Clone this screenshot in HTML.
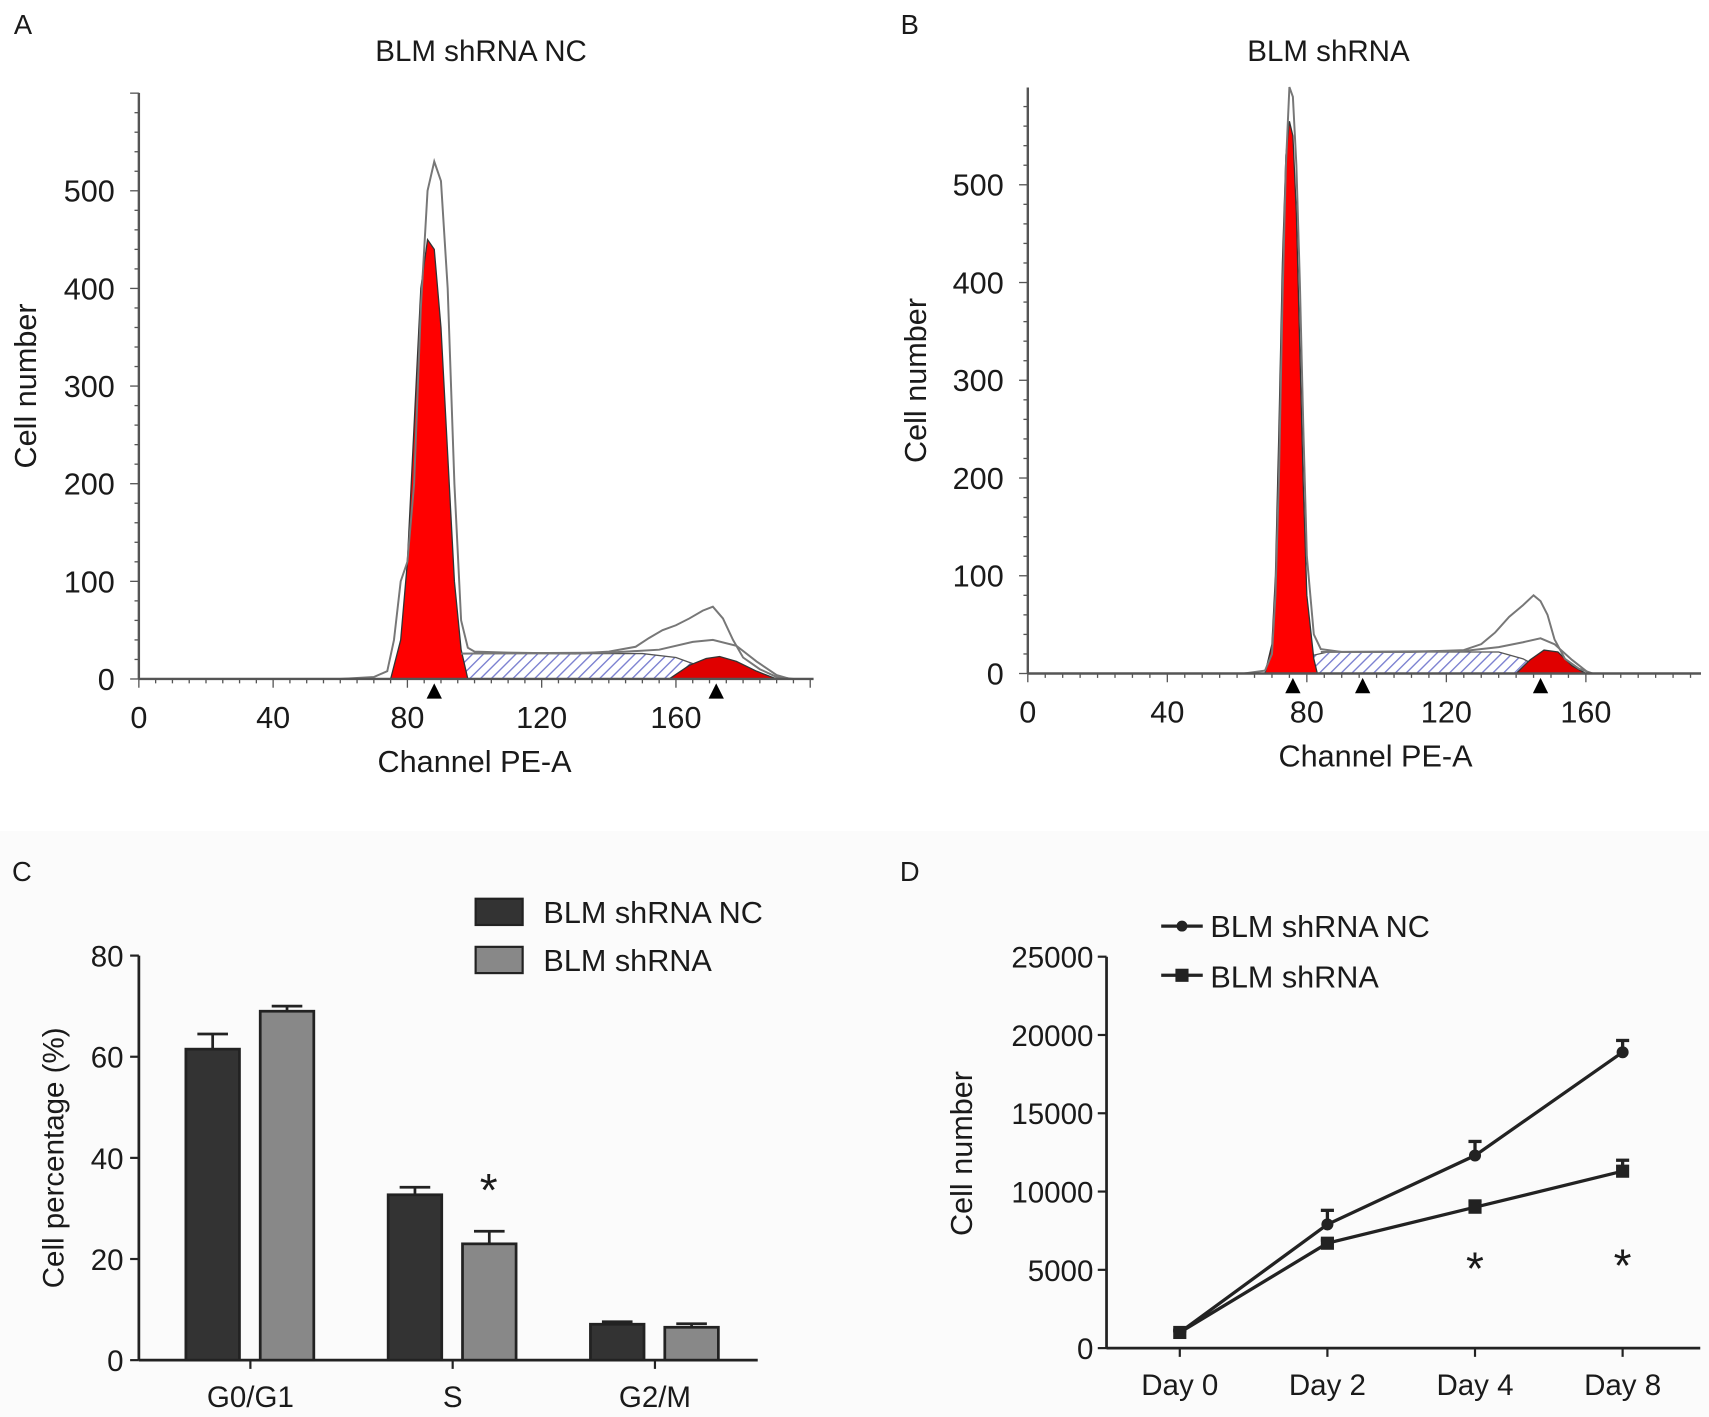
<!DOCTYPE html>
<html><head><meta charset="utf-8"><style>
html,body{margin:0;padding:0;background:#fff}
svg{display:block;font-family:"Liberation Sans",Arial,sans-serif}
</style></head><body>
<svg id="fig" width="1709" height="1417" viewBox="0 0 1563 1296" preserveAspectRatio="none" xmlns="http://www.w3.org/2000/svg">
<defs>
<pattern id="hatch" patternUnits="userSpaceOnUse" width="7" height="7" patternTransform="rotate(45)">
<rect width="7" height="7" fill="#fff"/><line x1="0" y1="0" x2="0" y2="7" stroke="#7a7fd0" stroke-width="2.5"/></pattern>
</defs>
<rect x="0" y="760" width="1563" height="536" fill="#fbfbfb"/>
<g id="root"></g>
</svg>
<script>
// ---- Panel A/B histogram data: [channel, count] ----
const aRaw=[[60,0],[70,2],[74,8],[76,40],[78,100],[80,120],[82,200],[84,380],[86,500],[88,530],[90,510],[92,400],[94,200],[96,60],[98,32],[100,28],[110,27],[130,26],[140,28],[148,33],[152,42],[156,50],[160,55],[164,62],[168,70],[171,74],[174,62],[177,40],[180,22],[185,10],[190,2],[195,0]];
const aSmooth=[[96,26],[140,27],[155,30],[165,38],[171,40],[178,34],[184,18],[190,4],[194,0]];
const aG1=[[75,0],[78,40],[80,120],[82,260],[84,400],[86,450],[88,440],[90,360],[92,230],[94,100],[96,30],[98,0]];
const aS=[[86,0],[92,22],[96,26],[150,26],[160,22],[168,12],[176,0]];
const aG2=[[158,0],[164,14],[169,21],[173,23],[178,18],[184,8],[190,0]];
const aMarks=[88,172];
const bRaw=[[62,0],[68,3],[70,20],[71,80],[72,200],[73,380],[74,520],[75,600],[76,590],[77,520],[78,400],[79,250],[80,120],[82,40],[84,25],[90,22],[110,22],[125,24],[130,30],[134,42],[138,58],[142,70],[145,80],[147,74],[149,60],[151,35],[154,15],[158,5],[162,0]];
const bSmooth=[[84,22],[125,23],[135,27],[142,32],[147,36],[151,30],[156,14],[161,0]];
const bG1=[[68,0],[70,30],[71,100],[72,250],[73,420],[74,530],[75,565],[76,550],[77,470],[78,330],[79,190],[80,80],[82,15],[83,0]];
const bS=[[76,0],[81,18],[86,22],[135,22],[142,15],[150,0]];
const bG2=[[140,0],[144,14],[148,24],[152,22],[156,8],[160,0]];
const bMarks=[76,96,147];
// ---- Panel C bar data ----
const cCats=["G0/G1","S","G2/M"];
const cNC=[61.5,32.7,7.1];
const cNCerr=[3,1.5,0.5];
const cSh=[69,23,6.5];
const cShErr=[1,2.5,0.7];
const cTicks=[0,20,40,60,80];
// ---- Panel D line data ----
const dCats=["Day 0","Day 2","Day 4","Day 8"];
const dNC=[1000,7900,12300,18900];
const dNCerr=[150,900,900,750];
const dSh=[1000,6700,9000,11300];
const dShErr=[100,200,400,700];
const dTicks=[0,5000,10000,15000,20000,25000];

const NS="http://www.w3.org/2000/svg";
const root=document.getElementById('root');
function mk(tag,attrs,parent,text){const e=document.createElementNS(NS,tag);for(const k in attrs)e.setAttribute(k,attrs[k]);if(text!==undefined)e.textContent=text;(parent||root).appendChild(e);return e;}
function txt(x,y,s,size,name,anchor,extra){const t=mk('text',Object.assign({x:x,y:y,'font-size':size,'text-anchor':anchor||'middle',fill:'#1a1a1a'},extra||{}),root,s);


return t;}

function histPanel(o){
  const g=mk('g',{});
  
  
  const X=v=>o.x0+v*o.kx, Y=v=>o.y0-v*o.ky;
  const area=(pts,fill,stroke,name)=>{let d='M'+X(pts[0][0])+','+Y(0);pts.forEach(p=>d+=' L'+X(p[0])+','+Y(p[1]));d+=' L'+X(pts[pts.length-1][0])+','+Y(0)+'Z';
    const p=mk('path',{d:d,fill:fill,stroke:stroke,'stroke-width':1.2},g);
    
    };
  const line=(pts,name)=>{const p=mk('polyline',{points:pts.map(p=>X(p[0])+','+Y(p[1])).join(' '),fill:'none',stroke:'#777','stroke-width':1.8},g);
    
    };
  area(o.s,'url(#hatch)','#555','s-phase-area');
  area(o.g1,'#ff0000','#333','g1-peak');
  area(o.g2,'#e00000','#333','g2-peak');
  line(o.raw,'raw-histogram');
  line(o.smooth,'fit-curve');
  mk('line',{x1:o.x0,y1:o.y0,x2:X(o.xmax),y2:o.y0,stroke:'#555','stroke-width':2.2},g);
  mk('line',{x1:o.x0,y1:o.y0,x2:o.x0,y2:o.ytop,stroke:'#555','stroke-width':2.2},g);
  for(let v=0;v<=o.xmax;v+=5){mk('line',{x1:X(v),y1:o.y0,x2:X(v),y2:o.y0+(v%40==0?8:4),stroke:'#555','stroke-width':1.2},g);}
  for(let v=0;Y(v)>=o.ytop;v+=20){mk('line',{x1:o.x0,y1:Y(v),x2:o.x0-(v%100==0?8:4),y2:Y(v),stroke:'#555','stroke-width':1.2},g);}
  [0,40,80,120,160].forEach(v=>txt(X(v),o.y0+45,String(v),28,'x-tick-'+v));
  [0,100,200,300,400,500].forEach(v=>txt(o.x0-22,Y(v)+10,String(v),28,'y-tick-'+v,'end'));
  o.marks.forEach(m=>{const t=mk('polygon',{points:`${X(m)-7},${o.y0+18} ${X(m)+7},${o.y0+18} ${X(m)},${o.y0+4}`,fill:'#000'},g);
    
    });
}
histPanel({name:'panel-a-histogram',x0:127,y0:621,kx:3.07,ky:0.893,xmax:201,ytop:85,raw:aRaw,smooth:aSmooth,g1:aG1,s:aS,g2:aG2,marks:aMarks});
histPanel({name:'panel-b-histogram',x0:940,y0:616,kx:3.19,ky:0.894,xmax:193,ytop:80,raw:bRaw,smooth:bSmooth,g1:bG1,s:bS,g2:bG2,marks:bMarks});
txt(21,31,'A',25,'panel-a-label','middle');
txt(440,56,'BLM shRNA NC',27,'panel-a-title');
txt(434,706,'Channel PE-A',28,'panel-a-x-title');
txt(33,353,'Cell number',28,'panel-a-y-title','middle',{transform:'rotate(-90 33 353)'});
txt(832,31,'B',25,'panel-b-label');
txt(1215,56,'BLM shRNA',27,'panel-b-title');
txt(1258,701,'Channel PE-A',28,'panel-b-x-title');
txt(847,348,'Cell number',28,'panel-b-y-title','middle',{transform:'rotate(-90 847 348)'});

// ---- Panel C ----
(function(){
  const x0=127,y0=1244,ky=4.625,Y=v=>y0-v*ky;
  const centers=[229,414,599],bw=49;
  mk('line',{x1:x0,y1:y0,x2:693,y2:y0,stroke:'#222','stroke-width':2.5});
  mk('line',{x1:x0,y1:y0,x2:x0,y2:Y(80),stroke:'#222','stroke-width':2.5});
  cTicks.forEach(v=>{mk('line',{x1:x0-8,y1:Y(v),x2:x0,y2:Y(v),stroke:'#222','stroke-width':2});txt(x0-14,Y(v)+10,String(v),27,'c-y-tick-'+v,'end');});
  cCats.forEach((c,i)=>{
    mk('line',{x1:centers[i],y1:y0,x2:centers[i],y2:y0+8,stroke:'#222','stroke-width':2});
    txt(centers[i],y0+43,c,27,'c-x-tick-'+i);
    [[cNC,cNCerr,'#333',-bw/2-10,'bar-nc-'],[cSh,cShErr,'#888',bw/2+9,'bar-shrna-']].forEach(s=>{
      const cx=centers[i]+s[3],v=s[0][i],e=s[1][i];
      mk('line',{x1:cx,y1:Y(v),x2:cx,y2:Y(v+e),stroke:'#222','stroke-width':2.5});
      mk('line',{x1:cx-14,y1:Y(v+e),x2:cx+14,y2:Y(v+e),stroke:'#222','stroke-width':2.5});
      const r=mk('rect',{x:cx-bw/2,y:Y(v),width:bw,height:v*ky,fill:s[2],stroke:'#222','stroke-width':2.5});
      
      
    });
  });
  txt(447,1103,'*',42,'c-significance-star');
  mk('rect',{x:435,y:822,width:43,height:24,fill:'#333',stroke:'#222','stroke-width':2});
  mk('rect',{x:435,y:866,width:43,height:24,fill:'#888',stroke:'#222','stroke-width':2});
  txt(497,844,'BLM shRNA NC',28,'c-legend-nc','start');
  txt(497,888,'BLM shRNA',28,'c-legend-shrna','start');
  txt(20,806,'C',25,'panel-c-label');
  txt(58,1059,'Cell percentage (%)',27,'c-y-title','middle',{transform:'rotate(-90 58 1059)'});
})();

// ---- Panel D ----
(function(){
  const x0=1012,y0=1233,ky=358/25000,Y=v=>y0-v*ky;
  const xs=[1079,1214,1349,1484];
  mk('line',{x1:x0,y1:y0,x2:1555,y2:y0,stroke:'#222','stroke-width':2.5});
  mk('line',{x1:x0,y1:y0,x2:x0,y2:Y(25000),stroke:'#222','stroke-width':2.5});
  dTicks.forEach(v=>{mk('line',{x1:x0-8,y1:Y(v),x2:x0,y2:Y(v),stroke:'#222','stroke-width':2});txt(x0-12,Y(v)+10,String(v),27,'d-y-tick-'+v,'end');});
  dCats.forEach((c,i)=>{mk('line',{x1:xs[i],y1:y0,x2:xs[i],y2:y0+8,stroke:'#222','stroke-width':2});txt(xs[i],y0+43,c,27,'d-x-tick-'+i);});
  [[dNC,dNCerr,'circle','line-nc'],[dSh,dShErr,'rect','line-shrna']].forEach(s=>{
    const p=mk('polyline',{points:s[0].map((v,i)=>xs[i]+','+Y(v)).join(' '),fill:'none',stroke:'#222','stroke-width':3});
    
    
    s[0].forEach((v,i)=>{
      const e=s[1][i];
      mk('line',{x1:xs[i],y1:Y(v),x2:xs[i],y2:Y(v+e),stroke:'#222','stroke-width':3});
      mk('line',{x1:xs[i]-6,y1:Y(v+e),x2:xs[i]+6,y2:Y(v+e),stroke:'#222','stroke-width':3});
      if(s[2]=='circle')mk('circle',{cx:xs[i],cy:Y(v),r:5.5,fill:'#222'});
      else mk('rect',{x:xs[i]-6,y:Y(v)-6,width:12,height:12,fill:'#222'});
    });
  });
  txt(1349,1175,'*',42,'d-star-day4');
  txt(1484,1172,'*',42,'d-star-day8');
  mk('line',{x1:1062,y1:847,x2:1100,y2:847,stroke:'#222','stroke-width':3});mk('circle',{cx:1081,cy:847,r:5,fill:'#222'});
  mk('line',{x1:1062,y1:892,x2:1100,y2:892,stroke:'#222','stroke-width':3});mk('rect',{x:1075,y:886,width:12,height:12,fill:'#222'});
  txt(1107,857,'BLM shRNA NC',28,'d-legend-nc','start');
  txt(1107,903,'BLM shRNA',28,'d-legend-shrna','start');
  txt(832,806,'D',25,'panel-d-label');
  txt(889,1055,'Cell number',28,'d-y-title','middle',{transform:'rotate(-90 889 1055)'});
})();
</script>
</body></html>
